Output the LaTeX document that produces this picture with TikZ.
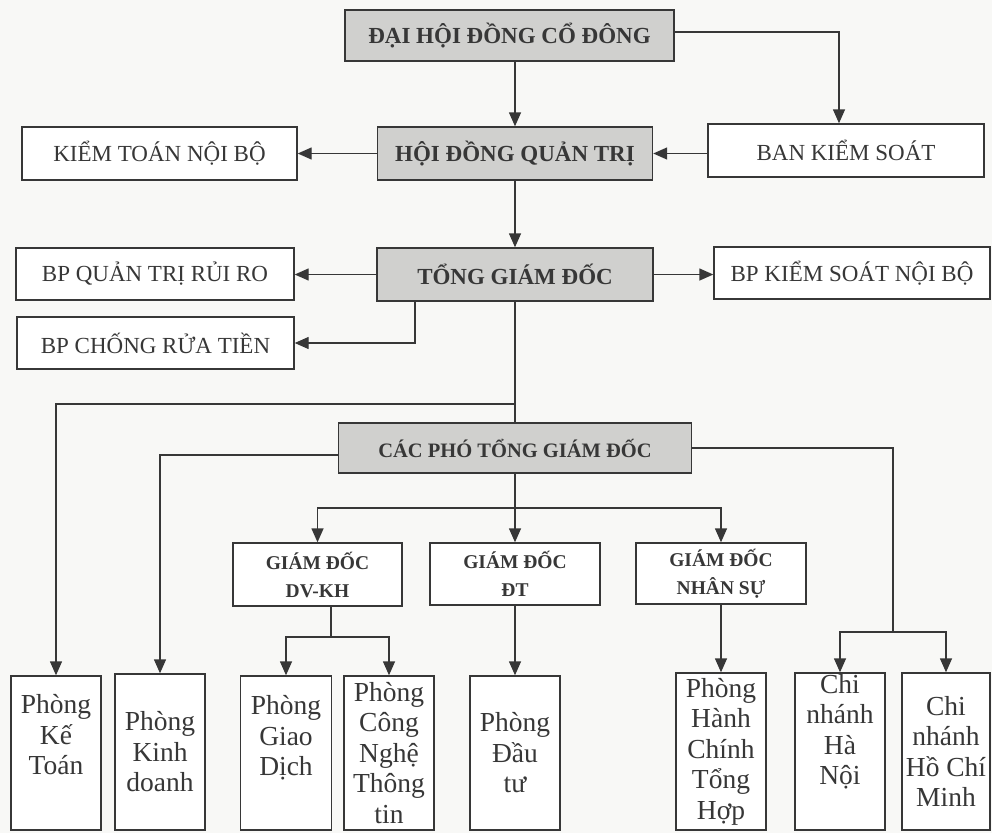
\documentclass[tikz,border=0pt]{standalone}
\usepackage{fontspec}
\setmainfont{Liberation Serif}
\usetikzlibrary{arrows.meta}
\definecolor{boxgray}{RGB}{208,208,206}
\definecolor{inkgray}{RGB}{55,55,55}
\definecolor{paper}{RGB}{248,248,246}

\begin{document}
\begin{tikzpicture}[x=1pt, y=-1pt]
		\tikzstyle{TopBox} = [rectangle, minimum width=275pt, minimum height=53pt, text centered, draw=inkgray, line width=1.4pt, fill=boxgray, text=inkgray, font=\fontsize{23}{27}\selectfont\bfseries]
		\tikzstyle{SideBox} = [rectangle, minimum width=276pt, minimum height=52pt, text centered, draw=inkgray, line width=1.4pt, fill=white, text=inkgray, font=\fontsize{23}{27}\selectfont]
		\tikzstyle{DirBox} = [rectangle, minimum width=170pt, minimum height=62pt, align=center, draw=inkgray, line width=1.4pt, fill=white, text=inkgray, font=\fontsize{19.5}{28}\selectfont\bfseries]
		\tikzstyle{DeptBox} = [rectangle, minimum width=90pt, minimum height=154pt, inner sep=0pt, align=center, draw=inkgray, line width=1.4pt, fill=white, text=inkgray, font=\fontsize{27.5}{30.5}\selectfont]
		\tikzstyle{arrow} = [line width=1.4pt, draw=inkgray, -{Triangle[length=14pt,width=12pt]}]
		\tikzstyle{link} = [line width=1.4pt, draw=inkgray]
		
		\fill [paper] (0,0) rectangle (992,833);
		\useasboundingbox (0,0) rectangle (992,833);
		
		\node (dhdcdNode) [TopBox, minimum width=329pt, minimum height=51pt] at (509.5,35.5) {ĐẠI HỘI ĐỒNG CỔ ĐÔNG};
		\node (hdqtNode) [TopBox] at (515,153.5) {HỘI ĐỒNG QUẢN TRỊ};
		\node (ktnbNode) [SideBox, minimum width=275pt, minimum height=53pt] at (159.5,153.5) {KIỂM TOÁN NỘI BỘ};
		\node (bksNode) [SideBox, minimum height=53pt] at (846,150.5) {BAN KIỂM SOÁT};
		\node (tgdNode) [TopBox, minimum width=276pt] at (515,274.5) {TỔNG GIÁM ĐỐC};
		\node (qtrrNode) [SideBox, minimum width=278pt] at (155,274) {BP QUẢN TRỊ RỦI RO};
		\node (ksnbNode) [SideBox] at (852,273) {BP KIỂM SOÁT NỘI BỘ};
		\node (crtNode) [SideBox, minimum width=277pt] at (155.5,343) {BP CHỐNG RỬA TIỀN};
		\node (cacphoNode) [TopBox, minimum width=353pt, minimum height=50pt, font=\fontsize{20.5}{25}\selectfont\bfseries] at (515,448) {CÁC PHÓ TỔNG GIÁM ĐỐC};
		
		\node (dvkhNode) [DirBox, minimum width=169pt, minimum height=63pt] at (317.5,574.5) {GIÁM ĐỐC\\DV-KH};
		\node (dtNode) [DirBox] at (515,574) {GIÁM ĐỐC\\ĐT};
		\node (nsNode) [DirBox, minimum height=61pt] at (721,573.5) {GIÁM ĐỐC\\NHÂN SỰ};
		
		\node (ketoanNode) [DeptBox] at (56,753) {Phòng\\Kế\\Toán\\[6pt]};
		\node (kinhdoanhNode) [DeptBox, minimum height=156pt] at (160,752) {Phòng\\Kinh\\doanh};
		\node (giaodichNode) [DeptBox, minimum width=91pt] at (286,753) {Phòng\\Giao\\Dịch\\[4pt]};
		\node (cnttNode) [DeptBox] at (389,753) {Phòng\\Công\\Nghệ\\Thông\\tin};
		\node (dautuNode) [DeptBox] at (515,753) {Phòng\\Đầu\\tư};
		\node (hcthNode) [DeptBox, minimum height=157pt] at (721,751.5) {Phòng\\Hành\\Chính\\Tổng\\Hợp};
		\node (hnNode) [DeptBox, minimum height=157pt] at (840,751.5) {Chi\\nhánh\\Hà\\Nội\\[14pt]};
		\node (hcmNode) [DeptBox, minimum width=88pt, minimum height=157pt] at (946,751.5) {Chi\\nhánh\\Hồ Chí\\Minh};
		
		\coordinate (ketoanSplit) at (515,404);
		\coordinate (gdSplit) at (515,508);
		\coordinate (dvkhSplit) at (331,637);
		\coordinate (chinhanhSplit) at (893,632);
		
		\draw [arrow] (hdqtNode.north |- dhdcdNode.south) -- (hdqtNode.north);
		\draw [arrow] ([yshift=3.5pt]dhdcdNode.east) -| ([xshift=-7pt]bksNode.north);
		\draw [arrow] (hdqtNode.west) -- (ktnbNode.east);
		\draw [arrow] (bksNode.west |- hdqtNode.east) -- (hdqtNode.east);
		\draw [arrow] (hdqtNode.south) -- (tgdNode.north);
		\draw [arrow] (tgdNode.west) -- (qtrrNode.east |- tgdNode.west);
		\draw [arrow] (tgdNode.east) -- (ksnbNode.west |- tgdNode.east);
		\draw [arrow] ([xshift=-100pt]tgdNode.south) |- (crtNode.east);
		\draw [link] (tgdNode.south) -- (cacphoNode.north);
		\draw [arrow] (ketoanSplit) -| (ketoanNode.north);
		\draw [arrow] ([yshift=-7pt]cacphoNode.west) -| (kinhdoanhNode.north);
		\draw [link] (cacphoNode.east) -| (chinhanhSplit);
		\draw [arrow] (chinhanhSplit) -| (hnNode.north);
		\draw [arrow] (chinhanhSplit) -| (hcmNode.north);
		\draw [link] (cacphoNode.south) -- (gdSplit);
		\draw [arrow] (gdSplit) -| (dvkhNode.north);
		\draw [arrow] (gdSplit) -- (dtNode.north);
		\draw [arrow] (gdSplit) -| (nsNode.north);
		\draw [link] (dvkhNode.south -| dvkhSplit) -- (dvkhSplit);
		\draw [arrow] (dvkhSplit) -| (giaodichNode.north);
		\draw [arrow] (dvkhSplit) -| (cnttNode.north);
		\draw [arrow] (dtNode.south) -- (dautuNode.north);
		\draw [arrow] (nsNode.south) -- (hcthNode.north);
\end{tikzpicture}
\end{document}
